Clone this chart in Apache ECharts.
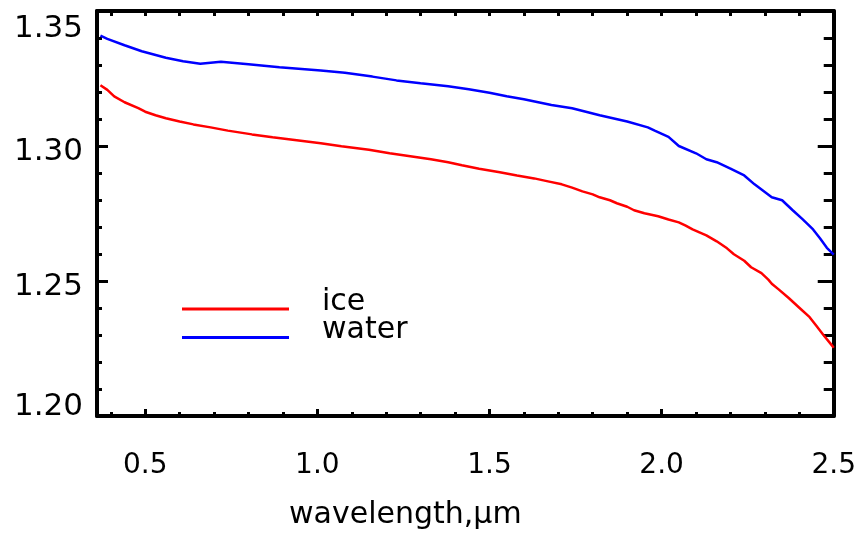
<!DOCTYPE html>
<html>
<head>
<meta charset="utf-8">
<script src="https://cdn.jsdelivr.net/npm/echarts@6/dist/echarts.min.js"></script>
<style>
  html, body { margin: 0; padding: 0; background: #fff; }
  #chart { width: 859px; height: 539px; }
</style>
</head>
<body>
<div id="chart"></div>
<script>
// refractive index vs wavelength (um)
var waterX = [0.37, 0.39, 0.44, 0.49, 0.56, 0.61, 0.66, 0.72, 0.80, 0.89, 1.01, 1.08, 1.16, 1.23, 1.30,
  1.38, 1.44, 1.50, 1.55, 1.60, 1.68, 1.74, 1.78, 1.82, 1.90, 1.96, 1.98, 2.02, 2.05, 2.10, 2.13,
  2.16, 2.20, 2.24, 2.27, 2.32, 2.35, 2.38, 2.41, 2.44, 2.46, 2.48, 2.50]
var waterY = [1.3409, 1.3397, 1.3373, 1.3351, 1.3327, 1.3314, 1.3305, 1.3312, 1.3303, 1.3292, 1.3280, 1.3271, 1.3257, 1.3243, 1.3232,
  1.3221, 1.3210, 1.3197, 1.3184, 1.3173, 1.3152, 1.3140, 1.3127, 1.3114, 1.3091, 1.3069, 1.3057, 1.3034, 1.3000, 1.2973, 1.2951,
  1.2940, 1.2916, 1.2891, 1.2858, 1.2810, 1.2799, 1.2763, 1.2728, 1.2691, 1.2658, 1.2623, 1.2598]

var iceX = [0.37, 0.39, 0.41, 0.44, 0.48, 0.50, 0.53, 0.56, 0.60, 0.64, 0.69, 0.74, 0.81, 0.87, 0.94,
  1.01, 1.07, 1.15, 1.21, 1.27, 1.33, 1.38, 1.42, 1.47, 1.53, 1.58, 1.63, 1.67, 1.71, 1.74, 1.77,
  1.80, 1.82, 1.85, 1.87, 1.90, 1.92, 1.95, 1.99, 2.02, 2.05, 2.07, 2.09, 2.11, 2.13, 2.16, 2.19,
  2.21, 2.24, 2.26, 2.29, 2.31, 2.32, 2.34, 2.37, 2.40, 2.43, 2.45, 2.47, 2.49, 2.50]
var iceY = [1.3225, 1.3208, 1.3184, 1.3162, 1.3140, 1.3127, 1.3114, 1.3103, 1.3091, 1.3080, 1.3069, 1.3057, 1.3043, 1.3032, 1.3021,
  1.3010, 1.2999, 1.2986, 1.2973, 1.2962, 1.2951, 1.2940, 1.2929, 1.2916, 1.2903, 1.2891, 1.2880, 1.2869, 1.2858, 1.2846, 1.2832,
  1.2821, 1.2810, 1.2799, 1.2788, 1.2775, 1.2762, 1.2751, 1.2740, 1.2728, 1.2717, 1.2705, 1.2691, 1.2680, 1.2669, 1.2647, 1.2621,
  1.2599, 1.2575, 1.2551, 1.2529, 1.2505, 1.2490, 1.2469, 1.2436, 1.2401, 1.2366, 1.2333, 1.2300, 1.2269, 1.2253]

var xMajor = [0.5, 1.0, 1.5, 2.0, 2.5]
var xMinor = [0.4, 0.6, 0.7, 0.8, 0.9, 1.1, 1.2, 1.3, 1.4, 1.6, 1.7, 1.8, 1.9, 2.1, 2.2, 2.3, 2.4]
var xAll = [0.4, 0.5, 0.6, 0.7, 0.8, 0.9, 1.0, 1.1, 1.2, 1.3, 1.4, 1.5, 1.6, 1.7, 1.8, 1.9, 2.0, 2.1, 2.2, 2.3, 2.4]

var font = 'DejaVu Sans'
var xMin = 0.36, xMax = 2.5

function pairs(xs, ys) {
  return xs.map(function (x, i) { return [x, ys[i]] })
}

var line = { show: true, onZero: false, lineStyle: { color: '#000', width: 4 } }

var chart = echarts.init(document.getElementById('chart'))
chart.setOption({
  animation: false,
  grid: { left: 97, right: 25, top: 11, bottom: 123 },
  legend: {
    orient: 'vertical',
    left: 177,
    top: 282,
    itemWidth: 107,
    itemHeight: 3,
    itemGap: -9,
    icon: 'rect',
    data: ['ice', 'water'],
    // text sits a little above its line, as in the original
    formatter: function (name) { return '{a|' + name + '}\n{b| }' },
    textStyle: {
      fontFamily: font, fontSize: 30, color: '#000',
      rich: {
        a: { fontFamily: font, fontSize: 30, color: '#000', padding: [0, 0, 0, 28] },
        b: { fontSize: 1, height: 14 }
      }
    }
  },
  xAxis: [
    {
      type: 'value', min: xMin, max: xMax, position: 'bottom',
      axisLine: line,
      axisTick: { inside: true, length: 7, customValues: xMajor, lineStyle: { color: '#000', width: 3 } },
      axisLabel: {
        customValues: xMajor, margin: 36, color: '#000', fontFamily: font, fontSize: 28,
        formatter: function (v) { return v.toFixed(1) }
      },
      splitLine: { show: false },
      name: 'wavelength,\u03bcm', nameLocation: 'middle', nameGap: 84,
      nameTextStyle: { fontFamily: font, fontSize: 30, color: '#000', padding: [0, 120, 0, 0] }
    },
    {
      type: 'value', min: xMin, max: xMax, position: 'bottom',
      axisLine: { show: false },
      axisTick: { inside: true, length: 4, customValues: xMinor, lineStyle: { color: '#000', width: 3 } },
      axisLabel: { show: false },
      splitLine: { show: false }
    },
    {
      type: 'value', min: xMin, max: xMax, position: 'top',
      axisLine: line,
      axisTick: { inside: true, length: 5, customValues: xAll, lineStyle: { color: '#000', width: 3 } },
      axisLabel: { show: false },
      splitLine: { show: false }
    }
  ],
  yAxis: [
    {
      type: 'value', min: 1.2, max: 1.35, interval: 0.05, position: 'left',
      axisLine: line,
      axisTick: { inside: true, length: 11, lineStyle: { color: '#000', width: 3 } },
      minorTick: { show: true, splitNumber: 5, length: 5, lineStyle: { color: '#000', width: 3 } },
      axisLabel: {
        margin: 14, color: '#000', fontFamily: font, fontSize: 31,
        formatter: function (v) {
          var s = v.toFixed(2)
          if (s === '1.35') return '{a|' + s + '}'
          if (s === '1.20') return '{c|' + s + '}'
          return '{b|' + s + '}'
        },
        rich: {
          a: { fontFamily: font, fontSize: 31, color: '#000', padding: [36, 0, 0, 0] },
          b: { fontFamily: font, fontSize: 31, color: '#000', padding: [12, 0, 0, 0] },
          c: { fontFamily: font, fontSize: 31, color: '#000', padding: [0, 0, 18, 0] }
        }
      },
      splitLine: { show: false }
    },
    {
      type: 'value', min: 1.2, max: 1.35, interval: 0.05, position: 'right',
      axisLine: line,
      axisTick: { inside: true, length: 16, lineStyle: { color: '#000', width: 3 } },
      minorTick: { show: true, splitNumber: 5, length: 10, lineStyle: { color: '#000', width: 3 } },
      axisLabel: { show: false },
      splitLine: { show: false }
    }
  ],
  series: [
    {
      name: 'ice', type: 'line', symbol: 'none', smooth: false,
      color: '#ff0000', lineStyle: { color: '#ff0000', width: 2.5 },
      data: pairs(iceX, iceY)
    },
    {
      name: 'water', type: 'line', symbol: 'none', smooth: false,
      color: '#0000ff', lineStyle: { color: '#0000ff', width: 2.5 },
      data: pairs(waterX, waterY)
    }
  ]
})
</script>
</body>
</html>
